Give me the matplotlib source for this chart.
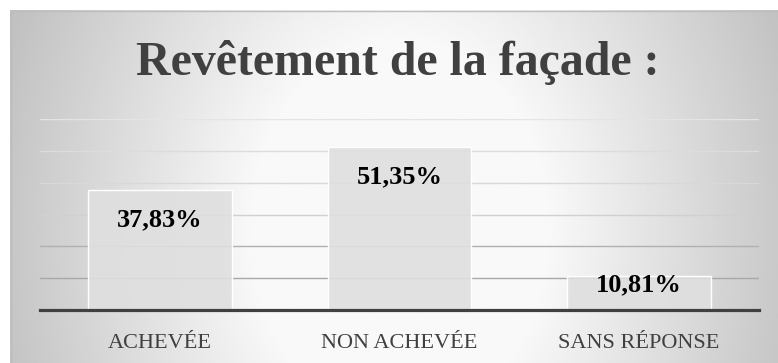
import numpy as np
import matplotlib
matplotlib.use("Agg")
import matplotlib.pyplot as plt
from matplotlib.colors import LinearSegmentedColormap

# Data
categories = ["ACHEVÉE", "NON ACHEVÉE", "SANS RÉPONSE"]
values = [37.83, 51.35, 10.81]
value_labels = ["37,83%", "51,35%", "10,81%"]
title = "Revêtement de la façade :"

W, H, DPI = 778, 363, 100
fig = plt.figure(figsize=(W / DPI, H / DPI), dpi=DPI)
fig.patch.set_facecolor("white")

# Background panel with a soft radial gradient (white centre, grey borders)
panel = fig.add_axes([10 / W, 0, (W - 10) / W, (H - 10) / H])
panel.set_xlim(10, W)
panel.set_ylim(H, 10)
panel.axis("off")
xx, yy = np.meshgrid(np.linspace(10, W, 400), np.linspace(10, H, 200))
r = np.sqrt(((xx - 400) / 390.0) ** 2 + ((yy - 230) / 500.0) ** 2)
t = np.clip((r - 0.38) / (1.0 - 0.38), 0, 1.15)
grey = 0.975 - t * (0.975 - 0.78)
cmap = LinearSegmentedColormap.from_list("g", ["black", "white"])
panel.imshow(grey, cmap=cmap, vmin=0, vmax=1, extent=(10, W, H, 10),
             aspect="auto", interpolation="bilinear")
panel.plot([10, W], [10.5, 10.5], color="#bdbdbd", lw=1.0)
panel.plot([10.5, 10.5], [10, H], color="#bcbcbc", lw=1.0)

# Chart area
ax = fig.add_axes([40 / W, (H - 310) / H, 719 / W, 191 / H])
ax.patch.set_alpha(0)
x = np.arange(len(categories))
ax.set_xlim(-0.5, len(categories) - 0.5)
ax.set_ylim(0, 60)
ax.set_yticks([10, 20, 30, 40, 50, 60])
ax.set_axisbelow(True)
ax.yaxis.grid(True, lw=1.0)
grid_colors = ["#a8a8a8", "#b0b0b0", "#d0d0d0", "#d8d8d8", "#dcdcdc", "#e4e4e4"]
for gl, c in zip(ax.get_ygridlines(), grid_colors):
    gl.set_color(c)

ax.bar(x, values, width=0.6, color=(0.875, 0.875, 0.875, 0.9),
       edgecolor="white", linewidth=1.0, zorder=2)

for xi, v, lab in zip(x, values, value_labels):
    y = v - 9.6 if v > 20 else v - 3.0
    ax.text(xi, y, lab, ha="center", va="center", fontsize=19,
            fontweight="bold", family="Liberation Serif", color="black", zorder=3)

for s in ["left", "right", "top"]:
    ax.spines[s].set_visible(False)
ax.spines["bottom"].set_color("#404040")
ax.spines["bottom"].set_linewidth(2.3)
ax.spines["bottom"].set_zorder(4)
ax.tick_params(axis="y", left=False, labelleft=False)
ax.tick_params(axis="x", length=0, pad=17)
ax.set_xticks(x)
ax.set_xticklabels(categories, fontsize=16, family="Liberation Serif",
                   color="#404040")

fig.text(398 / W, (H - 75) / H, title, ha="center", va="baseline",
         fontsize=34.5, fontweight="bold", family="Liberation Serif",
         color="#404040")

fig.savefig("out.png", dpi=DPI)
